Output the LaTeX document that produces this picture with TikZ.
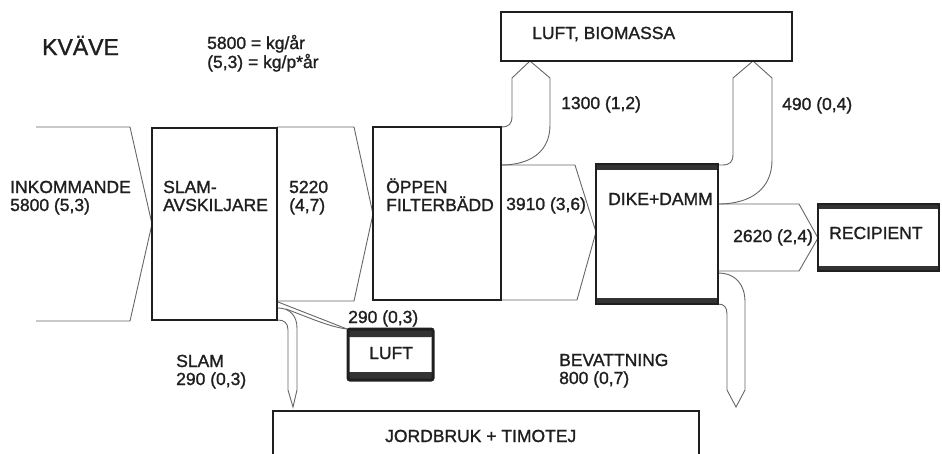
\documentclass[tikz,border=0pt]{standalone}
\usepackage{fontspec}
\setmainfont[FakeBold=1.3]{Liberation Sans}
\begin{document}
\begin{tikzpicture}[x=1pt,y=-1pt,
  boxline/.style={draw=black!88, line width=2.6pt, inner sep=0pt, fill=none},
  band/.style={draw=black!60, line width=0.9pt},
  lbl/.style={font=\fontsize{17.5}{19}\selectfont, inner sep=0pt, anchor=base west, text=black!88},
  bar/.style={fill=black!80, draw=none}]
\useasboundingbox (0,0) rectangle (942,453);
\clip (0,0) rectangle (942,453);

% flow bands
\draw[band] (36,127) -- (130,127) -- (152,224) -- (130,321) -- (36,321);
\draw[band] (277,127) -- (354,127) -- (373,214) -- (354,301) -- (277,301);
\draw[band] (501,127) .. controls (509,127) and (512,124) .. (512,116) -- (512,78) -- (530,61) -- (550,78) -- (550,125) .. controls (550,152) and (530,165) .. (501,165);
\draw[band] (501,165) -- (575,165) -- (596,232) -- (577,300) -- (501,300);
\draw[band] (718,165) -- (722,165) .. controls (730,165) and (733,162) .. (733,154) -- (733,78) -- (753,61) -- (772,78) -- (772,160) .. controls (772,188) and (752,204) .. (718,204);
\draw[band] (718,204) -- (799,204) -- (818,238) -- (799,271) -- (718,271);
\draw[band] (718,273) .. controls (736,273) and (745,285) .. (745,302) -- (745,390) -- (736,407) -- (727,390) -- (727,314) .. controls (727,307) and (724,304) .. (718,304);
\draw[band] (278,308) .. controls (290,308) and (297,316) .. (297,328) -- (297,390) -- (293,407) -- (288,390) -- (288,330) .. controls (288,323) and (284,320) .. (278,320);
\draw[band] (278,302) -- (347,329);
\draw[band] (286,309) .. controls (310,318) and (330,327) .. (347,329);

% boxes
\node[boxline, minimum width=125pt, minimum height=192pt] (slam) at (214.5,224) {};
\node[boxline, minimum width=128pt, minimum height=173pt] (filter) at (437,213.5) {};
\fill[bar] (596,164) rectangle (718,170);
\fill[bar] (596,298) rectangle (718,304);
\node[boxline, minimum width=122pt, minimum height=140pt] (dike) at (657,234) {};
\fill[bar] (818,204) rectangle (939,209);
\fill[bar] (818,266) rectangle (939,271);
\node[boxline, minimum width=121pt, minimum height=67pt] (recip) at (878.5,237.5) {};
\fill[bar, rounded corners=2pt] (348,329) rectangle (433,337);
\fill[bar, rounded corners=2pt] (348,372) rectangle (433,380);
\node[boxline, line width=3pt, rounded corners=2pt, minimum width=85pt, minimum height=51pt] (luft) at (390.5,354.5) {};
\node[boxline, line width=2.2pt, minimum width=291pt, minimum height=49pt] (bio) at (646.5,36.5) {};
\node[boxline, minimum width=426pt, minimum height=69pt] (jord) at (486,445.5) {};

% texts
\node[lbl, font=\fontsize{23}{25}\selectfont] (kv) at (42,55) {KVÄVE};
\node[lbl] (u1) at (207,49) {5800 = kg/år};
\node[lbl] (u2) at (207,68) {(5,3) = kg/p*år};
\node[lbl] (ink1) at (10,193) {INKOMMANDE};
\node[lbl] (ink2) at (10,211) {5800 (5,3)};
\node[lbl] (sl1) at (163,193) {SLAM-};
\node[lbl] (sl2) at (163,211) {AVSKILJARE};
\node[lbl] (f1) at (289,193) {5220};
\node[lbl] (f2) at (289,211) {(4,7)};
\node[lbl] (o1) at (386,193) {ÖPPEN};
\node[lbl] (o2) at (386,211) {FILTERBÄDD};
\node[lbl] (t3910) at (506,210) {3910 (3,6)};
\node[lbl] (diket) at (608,205) {DIKE+DAMM};
\node[lbl] (t1300) at (561,109) {1300 (1,2)};
\node[lbl] (t490) at (782,110) {490 (0,4)};
\node[lbl] (biot) at (532,39) {LUFT, BIOMASSA};
\node[lbl] (t2620) at (733,242) {2620 (2,4)};
\node[lbl] (rect) at (829,239) {RECIPIENT};
\node[lbl] (t290) at (348,323) {290 (0,3)};
\node[lbl] (luftt) at (369,359) {LUFT};
\node[lbl] (s1) at (176,367) {SLAM};
\node[lbl] (s2) at (176,385) {290 (0,3)};
\node[lbl] (b1) at (559,366) {BEVATTNING};
\node[lbl] (b2) at (559,384) {800 (0,7)};
\node[lbl] (jordt) at (385,442) {JORDBRUK + TIMOTEJ};
\end{tikzpicture}
\end{document}
